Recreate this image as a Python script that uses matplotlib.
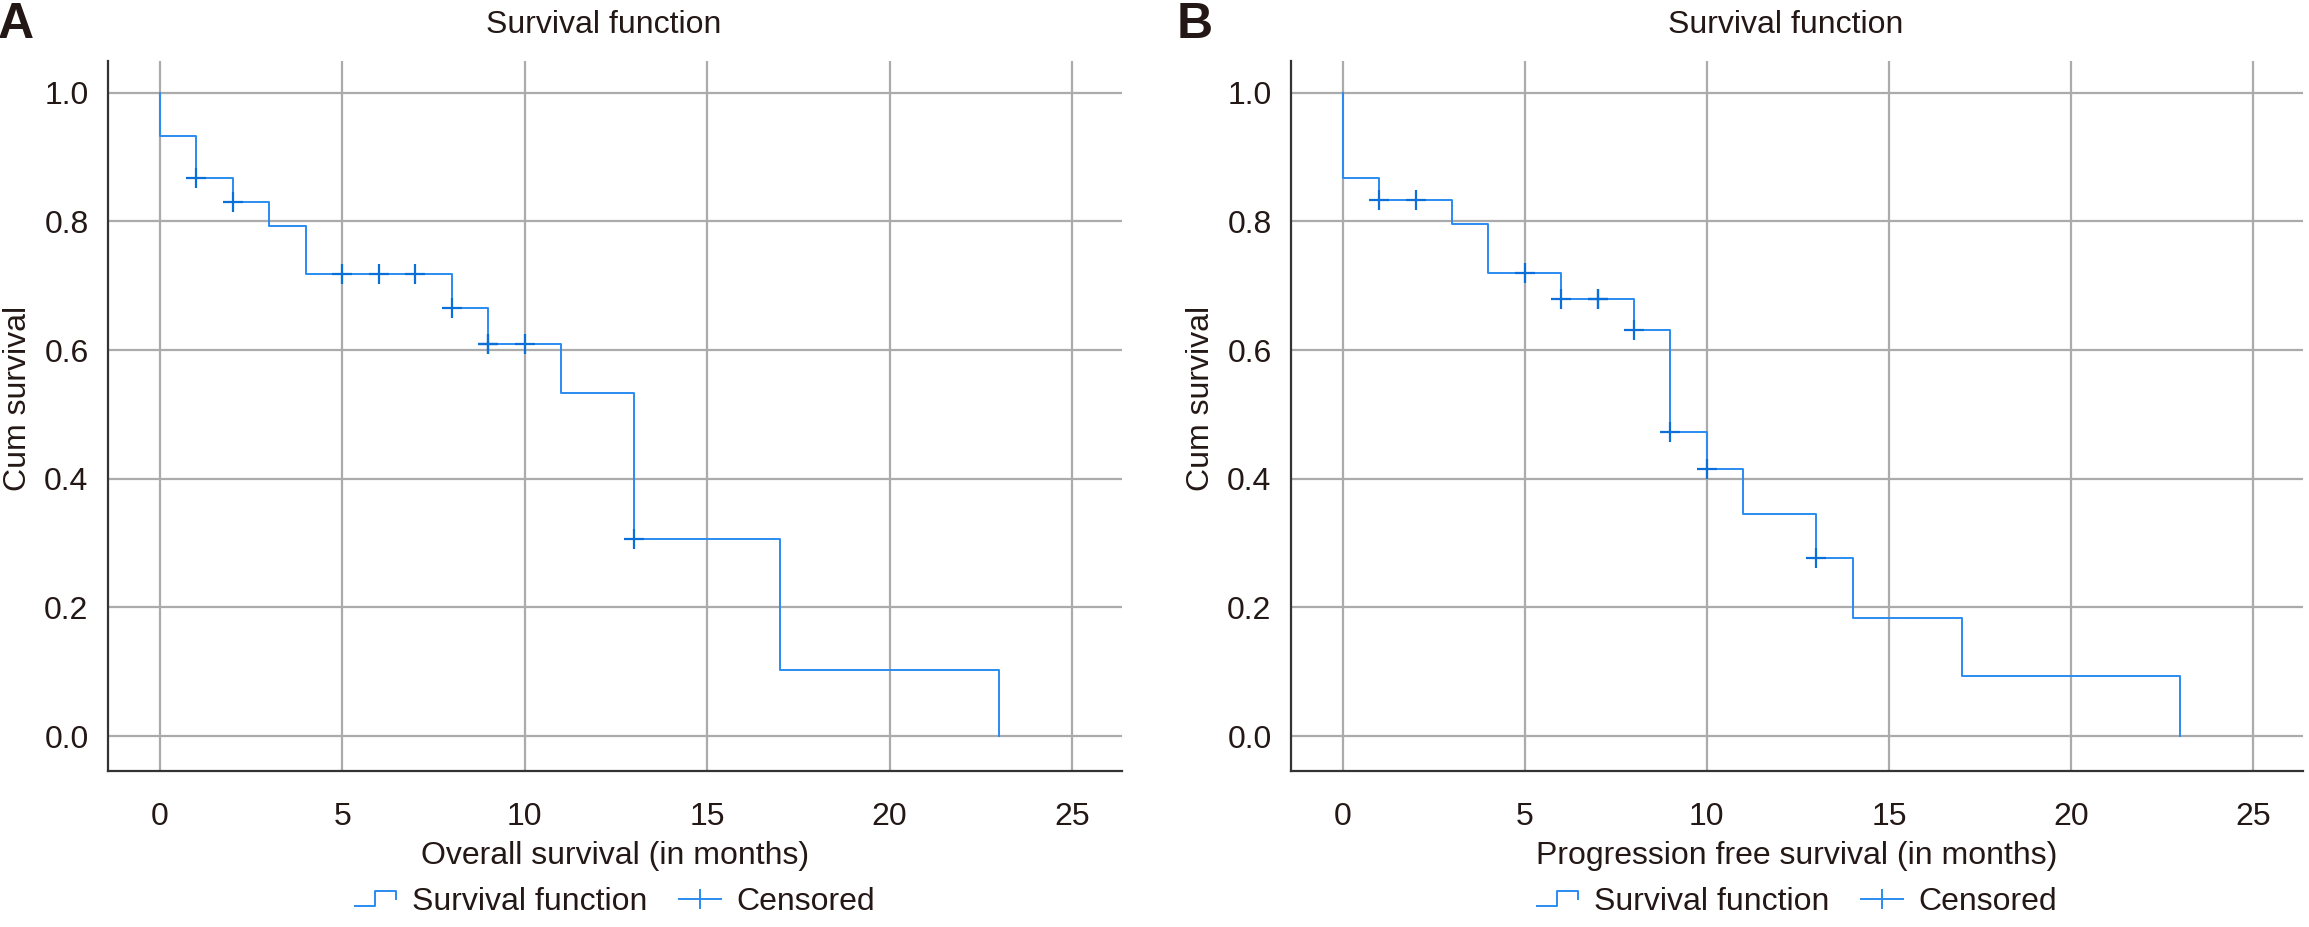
import numpy as np
import matplotlib
matplotlib.use("Agg")
import matplotlib.pyplot as plt
from matplotlib.lines import Line2D
from matplotlib.legend_handler import HandlerBase
from matplotlib import font_manager

avail = {f.name for f in font_manager.fontManager.ttflist}
fam = "Liberation Sans" if "Liberation Sans" in avail else "DejaVu Sans"
plt.rcParams["font.family"] = [fam, "DejaVu Sans"]

# ---------------- data ----------------
os_times = [0, 1, 2, 3, 4, 8, 9, 11, 13, 17, 23]
os_surv = [0.933, 0.867, 0.830, 0.793, 0.718, 0.665, 0.609, 0.534, 0.306, 0.102, 0.0]
os_censored = [1, 2, 5, 6, 7, 8, 9, 9, 10, 13]

pfs_times = [0, 1, 3, 4, 6, 8, 9, 10, 11, 13, 14, 17, 23]
pfs_surv = [0.867, 0.833, 0.796, 0.720, 0.680, 0.631, 0.473, 0.4145, 0.345, 0.276, 0.184, 0.094, 0.0]
pfs_censored = [1, 2, 5, 6, 7, 7, 8, 9, 10, 13]

xticks = [0, 5, 10, 15, 20, 25]
yticks = [0.0, 0.2, 0.4, 0.6, 0.8, 1.0]
panel_letters = ["A", "B"]
titles = ["Survival function", "Survival function"]
xlabels = ["Overall survival (in months)", "Progression free survival (in months)"]
ylabel = "Cum survival"
legend_labels = ["Survival function", "Censored"]

LINE_C = "#2a8cf0"
CENS_C = "#0a6fd8"
GRID_C = "#ababab"
TEXT_C = "#231815"
FS = 23


class StepHandler(HandlerBase):
    def create_artists(self, legend, orig_handle, xdescent, ydescent,
                       width, height, fontsize, trans):
        xs = np.array([0.0, 0.5, 0.5, 1.0, 1.0]) * width - xdescent
        ys = np.array([0.2, 0.2, 0.85, 0.85, 0.5]) * height - ydescent
        ln = Line2D(xs, ys, color=orig_handle.get_color(),
                    lw=orig_handle.get_linewidth())
        ln.set_transform(trans)
        return [ln]


def surv_at(times, surv, t):
    val = 1.0
    for ti, si in zip(times, surv):
        if ti <= t:
            val = si
    return val


W, H = 2309, 927
fig = plt.figure(figsize=(W / 100, H / 100), dpi=100)

boxes = [(108, 1122), (1291, 2303)]
top_px, bot_px = 60.6, 771.4
datasets = [(os_times, os_surv, os_censored), (pfs_times, pfs_surv, pfs_censored)]

for i, ((l, r), (times, surv, cens)) in enumerate(zip(boxes, datasets)):
    ax = fig.add_axes([l / W, 1 - bot_px / H, (r - l) / W, (bot_px - top_px) / H])
    ax.set_xlim(-1.42, 26.37)
    ax.set_ylim(-0.055, 1.05)
    ax.set_xticks(xticks)
    ax.set_yticks(yticks)
    ax.set_yticklabels([f"{v:.1f}" for v in yticks])
    ax.grid(True, color=GRID_C, lw=1.6)
    ax.set_axisbelow(True)
    for s in ["top", "right"]:
        ax.spines[s].set_visible(False)
    for s in ["left", "bottom"]:
        ax.spines[s].set_color("#333333")
        ax.spines[s].set_linewidth(1.6)
    ax.tick_params(axis="both", length=0, labelsize=FS, colors=TEXT_C)
    ax.tick_params(axis="y", pad=14)
    ax.tick_params(axis="x", pad=22)

    xs = [0] + list(times)
    ys = [1.0] + list(surv)
    ax.step(xs, ys, where="post", color=LINE_C, lw=1.4)
    cy = [surv_at(times, surv, t) for t in cens]
    ax.plot(cens, cy, linestyle="none", marker="+", markersize=15,
            mew=1.6, color=CENS_C)

    ax.text(0.489, 1.05, titles[i], transform=ax.transAxes, ha="center",
            va="center", fontsize=FS, color=TEXT_C)
    ax.set_xlabel(xlabels[i], fontsize=FS, color=TEXT_C)
    ax.xaxis.set_label_coords(0.5, -0.119)
    ax.xaxis.label.set_va("center")
    ax.set_ylabel(ylabel, fontsize=FS, color=TEXT_C)
    ax.yaxis.set_label_coords(-0.089, 0.525)
    ax.yaxis.label.set_va("center")

    h1 = Line2D([], [], color=LINE_C, lw=1.4)
    h2 = Line2D([], [], color=LINE_C, lw=1.4, marker="|", markersize=14, mew=1.4)
    ax.legend([h1, h2], legend_labels, handler_map={h1: StepHandler()},
              loc="center", bbox_to_anchor=(0.5, -0.184), ncol=2, frameon=False,
              fontsize=FS, handlelength=1.3, handletextpad=0.5, columnspacing=1.0,
              labelcolor=TEXT_C)

    fig.text((l - 108 + 16) / W if i == 0 else 1195 / W, 1 - 25 / H, panel_letters[i],
             fontsize=36, fontweight="bold", ha="center", va="center", color=TEXT_C)

fig.savefig("out.png", dpi=100)
